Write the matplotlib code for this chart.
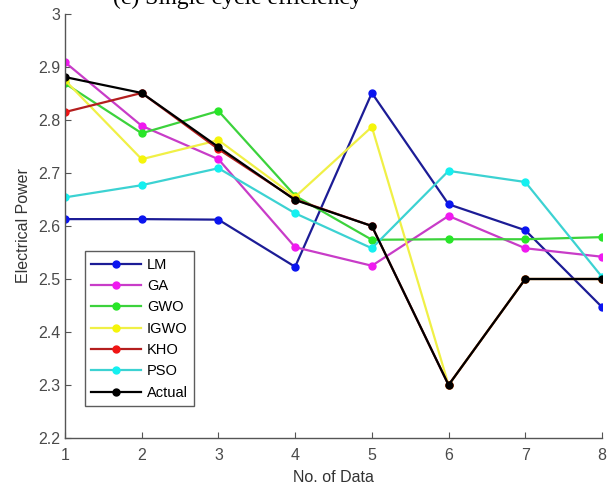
import numpy as np
import matplotlib
matplotlib.use("Agg")
import matplotlib.pyplot as plt

plt.rcParams["font.family"] = ["Liberation Sans", "DejaVu Sans"]

x = [1, 2, 3, 4, 5, 6, 7, 8]

lm = [2.613, 2.613, 2.612, 2.523, 2.851, 2.641, 2.592, 2.447]
ga = [2.909, 2.789, 2.726, 2.560, 2.525, 2.619, 2.558, 2.542]
gwo = [2.869, 2.775, 2.817, 2.657, 2.574, 2.575, 2.575, 2.579]
igwo = [2.875, 2.726, 2.762, 2.655, 2.787, 2.300, 2.500, 2.500]
kho = [2.815, 2.851, 2.745, 2.650, 2.600, 2.300, 2.500, 2.500]
pso = [2.654, 2.677, 2.709, 2.624, 2.558, 2.704, 2.683, 2.504]
actual = [2.881, 2.851, 2.749, 2.649, 2.600, 2.300, 2.500, 2.500]

names = ["LM", "GA", "GWO", "IGWO", "KHO", "PSO", "Actual"]
series = [lm, ga, gwo, igwo, kho, pso, actual]
# (line colour, marker colour)
colors = [("#1c1c96", "#0a14f0"),
          ("#c83cc8", "#f019f0"),
          ("#3cd23c", "#28e628"),
          ("#f0f046", "#f5f50a"),
          ("#b41e1e", "#f01414"),
          ("#3cd2d2", "#14f0f0"),
          ("#000000", "#000000")]

fig = plt.figure(figsize=(6.07, 4.92), dpi=100)
ax = fig.add_axes([65 / 607, 1 - 438 / 492, 537 / 607, 424 / 492])

for name, ys, (lc, mc) in zip(names, series, colors):
    ax.plot(x, ys, color=lc, lw=1.6, marker="o", markersize=5,
            markerfacecolor=mc, markeredgecolor=mc, label=name)

ax.set_xlim(1, 8)
ax.set_ylim(2.2, 3.0)
ax.set_xticks(x)
ax.set_yticks(np.arange(2.2, 3.01, 0.1))
ax.set_yticklabels(["2.2", "2.3", "2.4", "2.5", "2.6", "2.7", "2.8", "2.9", "3"])

grey = "#555555"
for side in ["top", "right"]:
    ax.spines[side].set_visible(False)
for side in ["left", "bottom"]:
    ax.spines[side].set_color(grey)
    ax.spines[side].set_linewidth(1.0)
ax.tick_params(direction="in", length=4, colors=grey, labelsize=11.5,
               labelcolor="#4a4a4a")
ax.tick_params(axis="x", pad=7)

ax.set_xlabel("No. of Data", fontsize=11.5, color="#333333", labelpad=5)
ax.set_ylabel("Electrical Power", fontsize=11.5, color="#333333", labelpad=5)

leg = ax.legend(loc="lower left", bbox_to_anchor=(0.037, 0.075), fontsize=10.5,
                frameon=True, fancybox=False, borderpad=0.45, labelspacing=0.5,
                handlelength=3.4, handletextpad=0.4, borderaxespad=0)
leg.get_frame().set_edgecolor("#333333")
leg.get_frame().set_linewidth(1.0)

# caption of the panel, running off the top edge of the figure
fig.text(113 / 607, 1 - 4 / 492, "(c) Single cycle efficiency",
         family="Liberation Serif", fontsize=17, va="baseline", ha="left")

fig.savefig("out.png", dpi=100)
